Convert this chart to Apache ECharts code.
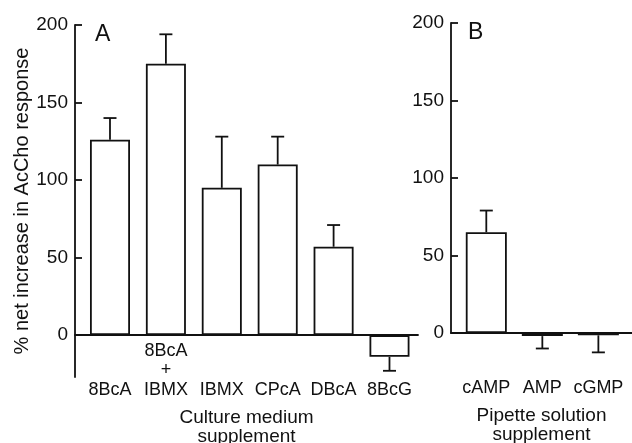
<!DOCTYPE html>
<html>
<head>
<meta charset="utf-8">
<script src="https://cdn.jsdelivr.net/npm/echarts@6/dist/echarts.min.js"></script>
<style>
  html, body { margin: 0; background: #fff; }
  #chart { width: 632px; height: 443px; }
</style>
</head>
<body>
<div id="chart"></div>
<script>
// panel A - culture medium supplement
const cultureCats = ['8BcA', '8BcA + IBMX', 'IBMX', 'CPcA', 'DBcA', '8BcG'];
const cultureValues = [126, 175, 95, 110, 57, -14];
const cultureErrors = [14, 19, 33, 18, 14, 9];
// panel B - pipette solution supplement
const pipetteCats = ['cAMP', 'AMP', 'cGMP'];
const pipetteValues = [65, -2, -1.5];
const pipetteErrors = [14, 8, 11];
const yTicks = [0, 50, 100, 150, 200];

const font = "'Liberation Sans', Arial, Helvetica, sans-serif";
const ink = '#111';
const line = { color: ink, width: 1.8 };

// labels are 3 lines so "8BcA + IBMX" can stack above the others
function catLabel(name) {
  const parts = name.split(' + ');
  if (parts.length > 1) return parts[0] + '\n+\n' + parts[1];
  return '\n\n' + name;
}

function errorBar(params, api) {
  const x = api.value(0);
  const v = api.value(1);
  const e = api.value(2);
  const end = v < 0 ? v - e : v + e;
  const p0 = api.coord([x, v]);
  const p1 = api.coord([x, end]);
  const half = 6.5;
  const style = { stroke: ink, lineWidth: 1.8 };
  return {
    type: 'group',
    children: [
      { type: 'line', shape: { x1: p0[0], y1: p0[1], x2: p1[0], y2: p1[1] }, style: style },
      { type: 'line', shape: { x1: p1[0] - half, y1: p1[1], x2: p1[0] + half, y2: p1[1] }, style: style }
    ]
  };
}

const chart = echarts.init(document.getElementById('chart'));

const labelStyle = { color: ink, fontSize: 19, fontFamily: font };

chart.setOption({
  animation: false,
  backgroundColor: '#fff',
  title: [
    { text: 'A', left: 90, top: 18, textStyle: { fontSize: 23, fontWeight: 'normal', color: ink, fontFamily: font } },
    { text: 'B', left: 463, top: 16, textStyle: { fontSize: 23, fontWeight: 'normal', color: ink, fontFamily: font } }
  ],
  grid: [
    { left: 75, right: 214, top: 25, bottom: 66, outerBoundsMode: 'none' },
    { left: 451, right: 0, top: 23, bottom: 110, outerBoundsMode: 'none' }
  ],
  xAxis: [
    {
      gridIndex: 0,
      type: 'value',
      min: -0.626,
      max: 5.51,
      axisLine: { onZero: true, lineStyle: line },
      axisTick: { show: false },
      splitLine: { show: false },
      // labels sit from the grid bottom (-27), so pull them up to the zero line
      axisLabel: {
        customValues: cultureCats.map((c, i) => i),
        formatter: (v) => catLabel(cultureCats[Math.round(v)]),
        margin: -36,
        lineHeight: 19.5,
        fontSize: 18,
        color: ink,
        fontFamily: font
      },
      name: 'Culture medium\nsupplement',
      nameLocation: 'middle',
      nameGap: 31,
      nameMoveOverlap: false,
      nameTextStyle: { fontSize: 19, lineHeight: 19, color: ink, fontFamily: font }
    },
    {
      gridIndex: 1,
      type: 'value',
      min: -0.63,
      max: 2.6,
      axisLine: { onZero: true, lineStyle: line },
      axisTick: { show: false },
      splitLine: { show: false },
      axisLabel: {
        customValues: pipetteCats.map((c, i) => i),
        formatter: (v) => catLabel(pipetteCats[Math.round(v)]),
        margin: 6,
        lineHeight: 19.5,
        fontSize: 18,
        color: ink,
        fontFamily: font
      },
      name: 'Pipette solution\nsupplement',
      nameLocation: 'middle',
      nameGap: 73,
      nameMoveOverlap: false,
      nameTextStyle: { fontSize: 19, lineHeight: 19, color: ink, fontFamily: font }
    }
  ],
  yAxis: [
    {
      gridIndex: 0,
      type: 'value',
      min: -27,
      max: 200,
      axisLine: { show: true, onZero: false, lineStyle: line },
      axisTick: { show: true, inside: true, length: 7, customValues: yTicks, lineStyle: line },
      axisLabel: Object.assign({ customValues: yTicks, margin: 7 }, labelStyle),
      splitLine: { show: false },
      name: '% net increase in AcCho response',
      nameLocation: 'middle',
      nameGap: 43,
      nameMoveOverlap: false,
      nameTextStyle: { color: ink, fontSize: 20, fontFamily: font }
    },
    {
      gridIndex: 1,
      type: 'value',
      min: 0,
      max: 200,
      interval: 50,
      axisLine: { show: true, onZero: false, lineStyle: line },
      axisTick: { show: true, inside: true, length: 7, lineStyle: line },
      axisLabel: Object.assign({ margin: 7 }, labelStyle),
      splitLine: { show: false }
    }
  ],
  series: [
    {
      type: 'bar',
      xAxisIndex: 0,
      yAxisIndex: 0,
      barWidth: 40,
      data: cultureValues.map((v, i) => [i, v]),
      itemStyle: { color: '#fff', borderColor: ink, borderWidth: 1.8 }
    },
    {
      type: 'custom',
      xAxisIndex: 0,
      yAxisIndex: 0,
      renderItem: errorBar,
      clip: false,
      encode: { x: 0, y: 1 },
      data: cultureValues.map((v, i) => [i, v, cultureErrors[i]]),
      z: 3
    },
    {
      type: 'bar',
      xAxisIndex: 1,
      yAxisIndex: 1,
      barWidth: 41,
      clip: false,
      // open fill for the tall cAMP bar, grey for the thin ones
      data: pipetteValues.map((v, i) => ({
        value: [i, v],
        itemStyle: { color: v > 0 ? '#fff' : '#888' }
      })),
      itemStyle: { borderColor: ink, borderWidth: 1.8 }
    },
    {
      type: 'custom',
      xAxisIndex: 1,
      yAxisIndex: 1,
      renderItem: errorBar,
      clip: false,
      encode: { x: 0, y: 1 },
      data: pipetteValues.map((v, i) => [i, v, pipetteErrors[i]]),
      z: 3
    }
  ]
});
</script>
</body>
</html>
